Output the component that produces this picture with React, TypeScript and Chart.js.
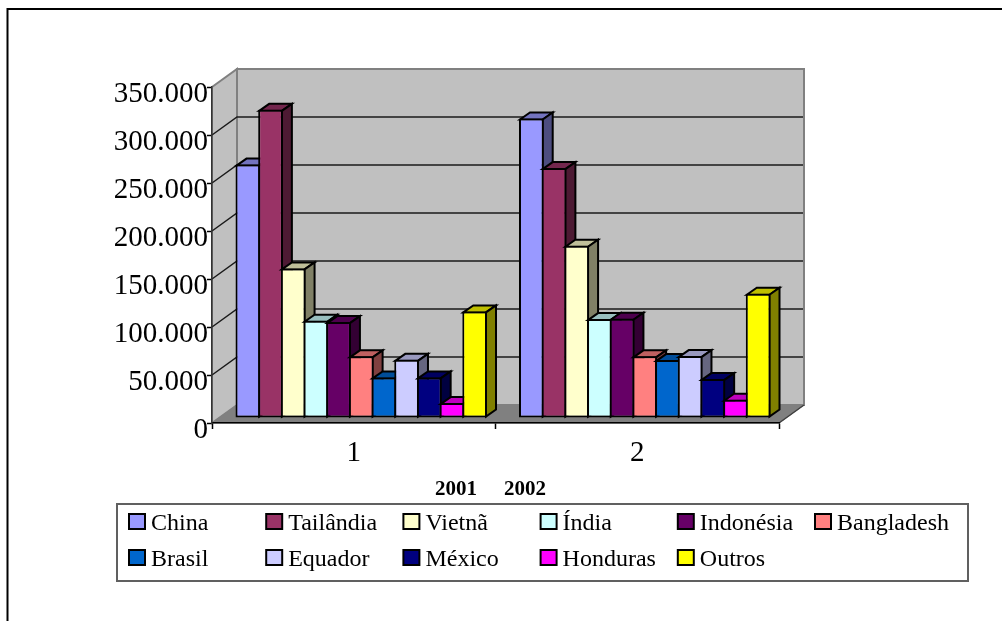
import React, { useEffect, useRef } from "react";
import { Chart, registerables } from "chart.js";

Chart.register(...registerables);

// Shipments per origin, one value per year group.
const categories = ["1", "2"];
const yearLabels = ["2001", "2002"];
const china = [264000, 312000];
const tailandia = [321000, 260300];
const vietna = [155800, 179400];
const india = [101300, 103000];
const indonesia = [99900, 103400];
const bangladesh = [64200, 64200];
const brasil = [42300, 60300];
const equador = [60600, 64500];
const mexico = [42300, 40500];
const honduras = [15500, 19000];
const outros = [111000, 129400];

const seriesNames = ["China", "Tailândia", "Vietnã", "Índia", "Indonésia", "Bangladesh", "Brasil", "Equador", "México", "Honduras", "Outros"];
const seriesValues = [china, tailandia, vietna, india, indonesia, bangladesh, brasil, equador, mexico, honduras, outros];
const seriesColors = ["#9999FF", "#993366", "#FFFFCC", "#CCFFFF", "#660066", "#FF8080", "#0066CC", "#CCCCFF", "#000080", "#FF00FF", "#FFFF00"];

const FONT = '"Liberation Serif", "Times New Roman", serif';
const WALL_DX = 25;
const WALL_DY = 18;
const BAR_SHIFT_X = 7.5;
const BAR_SHIFT_Y = 5;
const BAR_DX = 10;
const BAR_DY = 7;

function shade(hex: string, k: number) {
  const n = parseInt(hex.slice(1), 16);
  const c = [(n >> 16) & 255, (n >> 8) & 255, n & 255].map((v) => Math.round(v * k));
  return `rgb(${c[0]},${c[1]},${c[2]})`;
}

function poly(ctx: CanvasRenderingContext2D, pts: number[][], fill: string, stroke: string, lw: number) {
  ctx.beginPath();
  pts.forEach((p, i) => (i ? ctx.lineTo(p[0], p[1]) : ctx.moveTo(p[0], p[1])));
  ctx.closePath();
  ctx.fillStyle = fill;
  ctx.fill();
  ctx.lineWidth = lw;
  ctx.strokeStyle = stroke;
  ctx.lineJoin = "miter";
  ctx.stroke();
}

// Page frame, side wall, back wall, floor and their gridlines.
const wallsPlugin = {
  id: "walls",
  beforeDraw(chart: any) {
    const { ctx, chartArea: a, scales } = chart;
    const y = scales.y;
    ctx.save();
    ctx.strokeStyle = "#000";
    ctx.lineWidth = 2;
    ctx.beginPath();
    ctx.moveTo(7.5, 621);
    ctx.lineTo(7.5, 9);
    ctx.lineTo(1002, 9);
    ctx.stroke();

    const left = a.left, right = a.right, top = a.top, bottom = a.bottom;
    poly(ctx, [[left, top], [left + WALL_DX, top - WALL_DY], [left + WALL_DX, bottom - WALL_DY], [left, bottom]], "#C0C0C0", "#808080", 2);
    poly(ctx, [[left + WALL_DX, top - WALL_DY], [right + WALL_DX, top - WALL_DY], [right + WALL_DX, bottom - WALL_DY], [left + WALL_DX, bottom - WALL_DY]], "#C0C0C0", "#808080", 2);
    poly(ctx, [[left, bottom], [left + WALL_DX, bottom - WALL_DY], [right + WALL_DX, bottom - WALL_DY], [right, bottom]], "#808080", "#808080", 1);

    ctx.strokeStyle = "#1a1a1a";
    ctx.lineWidth = 1.5;
    y.ticks.forEach((t: any) => {
      if (t.value === 0 || t.value === y.max) return;
      const py = y.getPixelForValue(t.value);
      ctx.beginPath();
      ctx.moveTo(left, py);
      ctx.lineTo(left + WALL_DX, py - WALL_DY);
      ctx.lineTo(right + WALL_DX - 1, py - WALL_DY);
      ctx.stroke();
    });
    ctx.beginPath();
    ctx.moveTo(right, bottom);
    ctx.lineTo(right + WALL_DX, bottom - WALL_DY);
    ctx.strokeStyle = "#404040";
    ctx.stroke();
    ctx.restore();
  },
};

// Bars stand inside the floor. They are painted from the first series to the last,
// each one's top and side faces ahead of its front, so nearer neighbours overlap correctly.
const depthPlugin = {
  id: "depth",
  beforeDatasetsDraw(chart: any) {
    const { ctx } = chart;
    ctx.save();
    ctx.translate(BAR_SHIFT_X, -BAR_SHIFT_Y);
    seriesNames.forEach((_, index) => {
      const meta = chart.getDatasetMeta(index);
      const color = seriesColors[index];
      meta.data.forEach((el: any) => {
        const { x, y, base, width } = el.getProps(["x", "y", "base", "width"], true);
        const l = x - width / 2 + 1;
        const r = x + width / 2 - 1;
        const t = y + 1;
        const b = base - 1;
        poly(ctx, [[l, t], [l + BAR_DX, t - BAR_DY], [r + BAR_DX, t - BAR_DY], [r, t]], shade(color, 0.75), "#000", 2);
        poly(ctx, [[r, t], [r + BAR_DX, t - BAR_DY], [r + BAR_DX, b - BAR_DY], [r, b]], shade(color, 0.5), "#000", 2);
      });
      meta.controller.draw();
    });
    ctx.restore();
    return false;
  },
};

// Fixed-column legend box and the year captions above it.
const legendPlugin = {
  id: "boxLegend",
  afterDraw(chart: any) {
    const { ctx } = chart;
    ctx.save();
    ctx.textAlign = "left";
    ctx.textBaseline = "alphabetic";
    ctx.fillStyle = "#000";
    ctx.font = `bold 21px ${FONT}`;
    ctx.fillText(yearLabels[0], 435, 495);
    ctx.fillText(yearLabels[1], 504, 495);

    ctx.strokeStyle = "#606060";
    ctx.lineWidth = 2;
    ctx.strokeRect(117, 504, 851, 77);

    ctx.font = `24px ${FONT}`;
    seriesNames.forEach((name, i) => {
      const col = i % 6;
      const row = Math.floor(i / 6);
      const x = 129 + col * 137.2;
      const y = 514 + row * 36;
      ctx.fillStyle = seriesColors[i];
      ctx.fillRect(x, y, 16, 15);
      ctx.strokeStyle = "#000";
      ctx.lineWidth = 2;
      ctx.strokeRect(x, y, 16, 15);
      ctx.fillStyle = "#000";
      ctx.fillText(name, x + 22, y + 15.5);
    });
    ctx.restore();
  },
};

export default function App() {
  const ref = useRef<HTMLCanvasElement>(null);

  useEffect(() => {
    const chart = new Chart(ref.current!, {
      type: "bar",
      data: {
        labels: categories,
        datasets: seriesNames.map((name, i) => ({
          label: name,
          data: seriesValues[i],
          backgroundColor: seriesColors[i],
          borderColor: "#000",
          borderWidth: 2,
          borderSkipped: false,
          categoryPercentage: 0.88,
          barPercentage: 1.09,
          clip: false,
        })),
      },
      options: {
        animation: false,
        responsive: false,
        layout: { padding: { left: 0, top: 87, right: 223, bottom: 0 } },
        plugins: { legend: { display: false }, title: { display: false }, tooltip: { enabled: false } },
        scales: {
          x: {
            grid: { offset: true, drawOnChartArea: false, drawTicks: true, tickLength: 6, tickColor: "#000", tickWidth: 1.5 },
            border: { display: true, color: "#000", width: 1.5 },
            ticks: { font: { family: FONT, size: 29 }, color: "#000", padding: 7, maxRotation: 0 },
            afterFit(scale: any) {
              scale.height = 198;
            },
          },
          y: {
            min: 0,
            max: 350000,
            grid: { drawOnChartArea: false, drawTicks: true, tickLength: 5, tickColor: "#000", tickWidth: 1.5 },
            border: { display: true, color: "#333", width: 1.5 },
            ticks: {
              stepSize: 50000,
              font: { family: FONT, size: 29 },
              color: "#000",
              padding: -1,
              labelOffset: 7,
              callback: (v: any) => String(v).replace(/\B(?=(\d{3})+$)/g, "."),
            },
            afterFit(scale: any) {
              scale.width = 212;
            },
          },
        },
      },
      plugins: [wallsPlugin, depthPlugin, legendPlugin],
    } as any);
    return () => chart.destroy();
  }, []);

  return (
    <canvas
      ref={ref}
      width={1002}
      height={621}
      style={{ position: "fixed", left: 0, top: 0, display: "block", background: "#fff" }}
    />
  );
}
